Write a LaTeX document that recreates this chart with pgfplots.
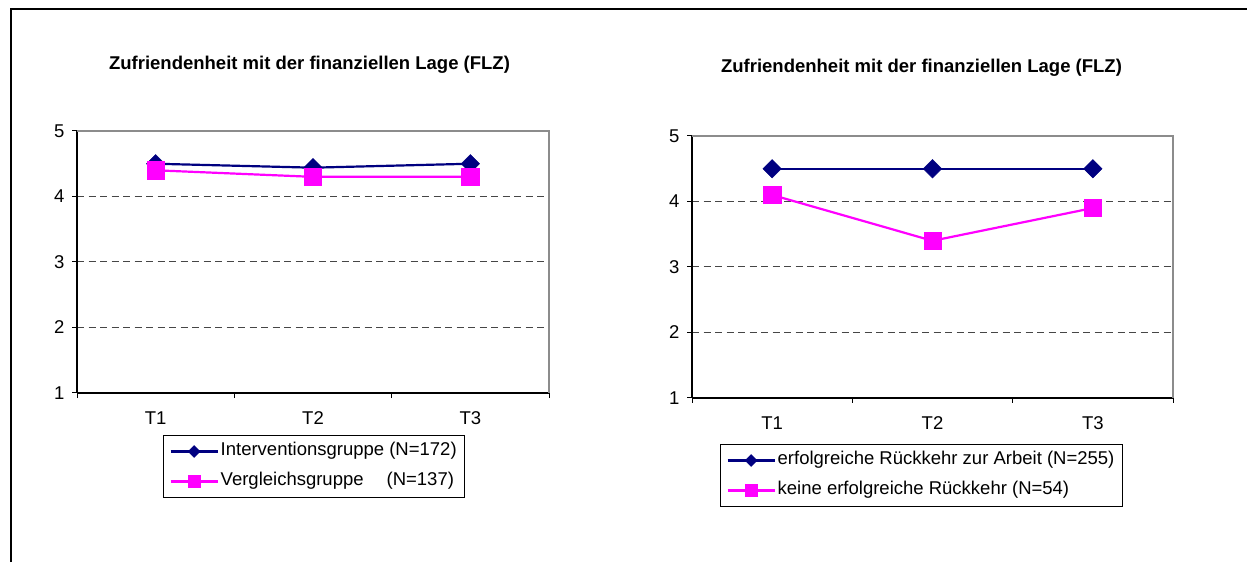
\documentclass[border=0pt]{standalone}
\usepackage{fontspec}
\setmainfont{Liberation Sans}
\usepackage{pgfplots}
\pgfplotsset{compat=1.18}

\definecolor{navyc}{RGB}{0,0,128}
\definecolor{magc}{RGB}{255,0,255}
\definecolor{gridc}{RGB}{70,70,70}
\definecolor{borderc}{RGB}{140,140,140}
\newcommand\fs{\fontsize{18.5pt}{22pt}\selectfont}

\pgfplotsset{
  myaxis/.style={
    scale only axis, height=262pt,
    xmin=0, xmax=3, ymin=1, ymax=5,
    xtick={0,1,2,3}, xticklabels={T1,T2,T3}, x tick label as interval,
    ytick={1,2,3,4,5},
    axis x line*=bottom, axis y line*=left,
    axis line style={black, line width=1.6pt},
    tick align=outside, major tick length=5pt,
    tick style={black, line width=1pt},
    ymajorgrids, major grid style={gridc, dash pattern=on 7pt off 4.5pt, line width=1pt},
    tick label style={font=\fs},
    xticklabel style={yshift=-10pt},
    yticklabel style={xshift=-4pt},
    /pgf/number format/assume math mode=true,
    clip=false,
    legend style={draw=black, line width=1pt, inner xsep=6pt, inner ysep=1pt,
      row sep=0pt, anchor=north west,
      nodes={inner xsep=2pt, inner ysep=6.25pt, text height=12.5pt, text depth=5pt, font=\fs},
      cells={anchor=west}},
    legend image code/.code={\draw[mark repeat=2, mark phase=2] plot coordinates {(0pt,0pt)(23.5pt,0pt)(47pt,0pt)};},
  },
  navyplot/.style={navyc, line width=2.2pt, mark=square*, mark size=6.5pt,
    mark options={rotate=45, solid, line width=0.5pt, fill=navyc},
    legend image post style={mark size=4.2pt}},
  magplot/.style={magc, line width=2.2pt, mark=square*, mark size=8.7pt,
    mark options={solid, line width=0.5pt, fill=magc},
    legend image post style={mark size=5.8pt}},
}

\begin{document}
\begin{tikzpicture}
\useasboundingbox (0pt,0pt) rectangle (1247pt,562pt);
\fill[white] (0pt,0pt) rectangle (1247pt,562pt);
\draw[line width=2pt] (11pt,0pt) -- (11pt,553pt) -- (1247pt,553pt);

\node[font=\bfseries\fs] at (309.5pt,497pt) {Zufriendenheit mit der finanziellen Lage (FLZ)};
\node[font=\bfseries\fs] at (921.5pt,494pt) {Zufriendenheit mit der finanziellen Lage (FLZ)};

\begin{axis}[myaxis, width=472pt, at={(77pt,169pt)}, anchor=south west,
  legend style={at={(0.1822,-0.1603)}}]
\draw[borderc, line width=1.5pt] (rel axis cs:0,1) -- (rel axis cs:1,1) -- (rel axis cs:1,0);
\addplot[navyplot] coordinates {(0.5,4.5) (1.5,4.44) (2.5,4.5)};
\addlegendentry{Interventionsgruppe (N=172)}
\addplot[magplot] coordinates {(0.5,4.4) (1.5,4.3) (2.5,4.3)};
\addlegendentry{Vergleichsgruppe\hspace{23pt}(N=137)}
\end{axis}

\begin{axis}[myaxis, width=481pt, at={(692pt,164pt)}, anchor=south west,
  legend style={at={(0.0582,-0.1756)}}]
\draw[borderc, line width=1.5pt] (rel axis cs:0,1) -- (rel axis cs:1,1) -- (rel axis cs:1,0);
\addplot[navyplot] coordinates {(0.5,4.5) (1.5,4.5) (2.5,4.5)};
\addlegendentry{erfolgreiche Rückkehr zur Arbeit (N=255)}
\addplot[magplot] coordinates {(0.5,4.1) (1.5,3.4) (2.5,3.9)};
\addlegendentry{keine erfolgreiche Rückkehr (N=54)}
\end{axis}
\end{tikzpicture}
\end{document}
